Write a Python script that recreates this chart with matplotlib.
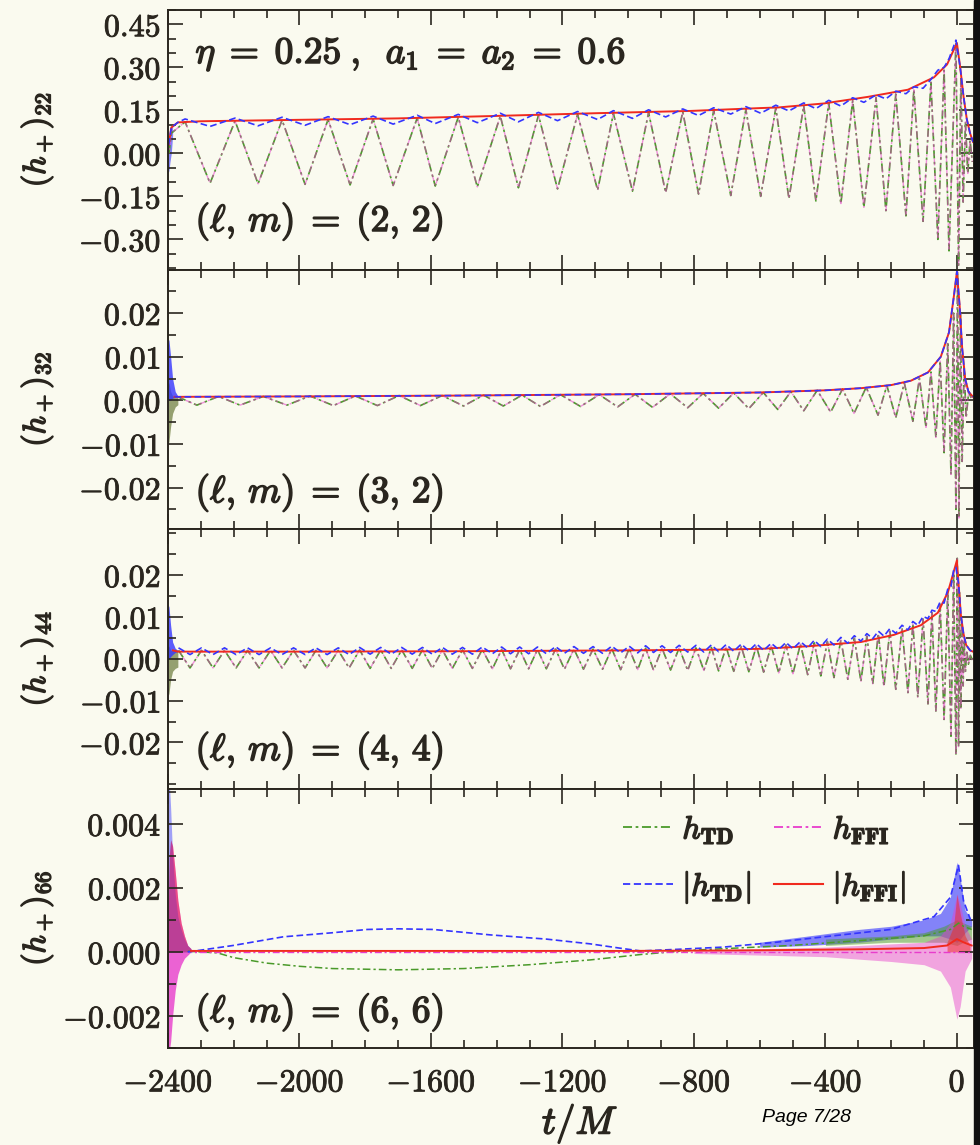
import numpy as np
import matplotlib
matplotlib.use('Agg')
import matplotlib.pyplot as plt
from matplotlib.ticker import MultipleLocator, FuncFormatter, FixedLocator
import matplotlib.patheffects as pe
from matplotlib.patches import Rectangle
from matplotlib.lines import Line2D

plt.rcParams['mathtext.fontset'] = 'cm'
plt.rcParams['font.family'] = ['DejaVu Serif']

BG = '#fafaef'
INK = '#2a261f'
GREEN = '#4a9a2a'
MAGENTA = '#e83ccc'
BLUE = '#3434ff'
RED = '#f02a1e'

# ---------------- panel 1 : (l,m) = (2,2) ----------------
t1_peak = [-2348, -2196, -2053, -1913, -1776, -1642, -1517, -1389, -1273, -1154, -1045, -938, -834,
           -740, -642, -551, -466, -390, -317, -246, -186, -131, -79, -39, -3]
h1_peak = [0.110, 0.113, 0.116, 0.118, 0.120, 0.123, 0.126, 0.130, 0.133, 0.136, 0.139, 0.142, 0.145,
           0.149, 0.153, 0.158, 0.166, 0.175, 0.184, 0.194, 0.207, 0.222, 0.248, 0.290, 0.385]
t1_trough = [-2272, -2126, -1983, -1846, -1715, -1587, -1459, -1334, -1215, -1093, -987, -886, -786,
             -688, -597, -511, -429, -353, -283, -216, -155, -103, -58, -24]
h1_trough = [-0.104, -0.106, -0.108, -0.110, -0.112, -0.114, -0.117, -0.120, -0.124, -0.128, -0.132,
             -0.137, -0.142, -0.147, -0.150, -0.158, -0.166, -0.175, -0.188, -0.200, -0.218, -0.237,
             -0.300, -0.340]
t1_edge = [-2397, -2390, 5, 12, 19, 26, 33, 40, 47]
h1_edge = [0.0, 0.07, -0.39, 0.26, -0.17, 0.11, -0.07, 0.045, -0.03]
t1_env = [-2398, -2390, -2370, -2300, -2000, -1700, -1420, -1100, -810, -597, -545, -405, -271, -149,
          -70, -30, 0, 10, 20, 30, 40, 49]
e1_env = [0.03, 0.09, 0.108, 0.112, 0.117, 0.122, 0.130, 0.140, 0.148, 0.158, 0.160, 0.174, 0.197,
          0.222, 0.265, 0.31, 0.385, 0.30, 0.20, 0.12, 0.07, 0.04]
ripple1 = 0.010
t1_junk = [-2400, -2397, -2394, -2390, -2386]
j1_hi = [0.06, 0.06, 0.07, 0.09, 0.10]
j1_lo = [-0.07, -0.06, -0.03, 0.0, 0.06]

# ---------------- panel 2 : (l,m) = (3,2) ----------------
t2_peak = [-2370, -2246, -2110, -1968, -1830, -1697, -1566, -1440, -1323, -1206, -1088, -979, -872,
           -772, -679, -589, -505, -425, -348, -276, -213, -160, -114, -79, -51, -28, -10]
h2_peak = [0.0008, 0.0009, 0.0009, 0.0010, 0.0010, 0.0011, 0.0011, 0.0012, 0.0012, 0.0013, 0.0013,
           0.0014, 0.0015, 0.0016, 0.0017, 0.0018, 0.0020, 0.0023, 0.0026, 0.0030, 0.0034, 0.0040,
           0.0050, 0.0065, 0.0090, 0.0130, 0.0200]
t2_trough = [-2312, -2181, -2038, -1897, -1763, -1632, -1501, -1380, -1267, -1145, -1032, -926, -819,
             -725, -633, -545, -466, -384, -313, -240, -186, -134, -94, -64, -39, -18, -3]
h2_trough = [-0.0011, -0.0011, -0.0011, -0.0012, -0.0012, -0.0012, -0.0013, -0.0013, -0.0014, -0.0014,
             -0.0015, -0.0016, -0.0017, -0.0018, -0.0019, -0.0021, -0.0024, -0.0027, -0.0030, -0.0034,
             -0.0040, -0.0048, -0.0062, -0.0085, -0.0120, -0.0170, -0.0250]
t2_edge = [2, 6, 11, 16, 22, 28, 36, 46]
h2_edge = [0.0295, -0.027, 0.020, -0.014, 0.008, -0.004, 0.002, 0.0]
t2_env = [-2380, -2000, -1500, -1000, -600, -400, -290, -200, -140, -88, -49, -24, -9, 0, 8, 16, 25, 35, 49]
e2_env = [0.0008, 0.0009, 0.0011, 0.0014, 0.0018, 0.0023, 0.0028, 0.0035, 0.0045, 0.0064, 0.010,
          0.0156, 0.024, 0.0295, 0.022, 0.012, 0.005, 0.002, 0.0008]
t2_junk = [-2400, -2397, -2392, -2386, -2378, -2370]
j2_blue_hi = [0.014, 0.0138, 0.010, 0.005, 0.002, 0.001]
j2_blue_lo = [0.0, 0.0, 0.0, 0.0005, 0.0007, 0.0008]
j2_green_hi = [0.004, 0.004, 0.002, 0.001, 0.0008, 0.0008]
j2_green_lo = [-0.010, -0.0095, -0.006, -0.003, -0.0015, -0.001]

# ---------------- panel 3 : (l,m) = (4,4) ----------------
t3_peak = [-2368, -2298, -2228, -2158, -2088, -2018, -1950, -1882, -1817, -1753, -1689, -1626, -1565,
           -1504, -1444, -1385, -1330, -1276, -1221, -1165, -1107, -1050, -997, -947, -897, -845, -794,
           -747, -702, -656, -610, -565, -520, -476, -434, -394, -353, -312, -274, -239, -204, -167,
           -134, -103, -76, -51, -28, -10]
h3_peak = [0.0020, 0.0020, 0.0020, 0.0020, 0.0020, 0.0020, 0.0020, 0.0020, 0.0021, 0.0021, 0.0021,
           0.0021, 0.0021, 0.0021, 0.0022, 0.0022, 0.0022, 0.0022, 0.0023, 0.0023, 0.0023, 0.0024,
           0.0024, 0.0025, 0.0025, 0.0026, 0.0026, 0.0027, 0.0028, 0.0029, 0.0030, 0.0031, 0.0033,
           0.0035, 0.0038, 0.0041, 0.0045, 0.0049, 0.0054, 0.0060, 0.0066, 0.0074, 0.0083, 0.0095,
           0.0110, 0.0130, 0.0160, 0.0205]
t3_trough = [-2333, -2263, -2193, -2123, -2053, -1983, -1916, -1849, -1785, -1721, -1657, -1596, -1535,
             -1474, -1413, -1358, -1303, -1249, -1194, -1136, -1078, -1023, -971, -923, -871, -819, -770,
             -725, -679, -633, -588, -542, -499, -454, -414, -374, -332, -292, -256, -222, -186, -149,
             -119, -88, -64, -39, -18, -3]
h3_trough = [-0.0022, -0.0022, -0.0022, -0.0022, -0.0022, -0.0022, -0.0022, -0.0022, -0.0023, -0.0023,
             -0.0023, -0.0023, -0.0023, -0.0023, -0.0024, -0.0024, -0.0024, -0.0024, -0.0025, -0.0025,
             -0.0025, -0.0026, -0.0026, -0.0027, -0.0027, -0.0028, -0.0028, -0.0029, -0.0030, -0.0031,
             -0.0032, -0.0034, -0.0036, -0.0038, -0.0041, -0.0045, -0.0049, -0.0054, -0.0060, -0.0066,
             -0.0073, -0.0081, -0.0092, -0.0108, -0.0125, -0.0145, -0.0185, -0.0230]
t3_edge = [1, 5, 8, 12, 15, 19, 22, 26, 30, 35, 41, 48]
h3_edge = [0.024, -0.021, 0.016, -0.012, 0.009, -0.0065, 0.0045, -0.003, 0.002, -0.0013, 0.0008, -0.0004]
t3_env = [-2385, -2370, -2000, -1500, -1000, -700, -588, -450, -292, -192, -110, -58, -27, -9, 0, 5,
          12, 20, 28, 40, 49]
e3_env = [0.0020, 0.0017, 0.0017, 0.0018, 0.0020, 0.0022, 0.0024, 0.0030, 0.0040, 0.0057, 0.0080,
          0.0110, 0.0160, 0.0210, 0.0235, 0.0180, 0.0105, 0.0060, 0.0033, 0.0020, 0.0017]
ripple3 = 0.0006
t3_junk = [-2400, -2397, -2392, -2386, -2378, -2370]
j3_blue_hi = [0.013, 0.0124, 0.008, 0.004, 0.0025, 0.002]
j3_blue_lo = [0.0, 0.0, 0.0005, 0.001, 0.0015, 0.0017]
j3_green_hi = [0.003, 0.003, 0.002, 0.002, 0.002, 0.002]
j3_green_lo = [-0.009, -0.0083, -0.005, -0.003, -0.0023, -0.002]

# ---------------- panel 4 : (l,m) = (6,6) ----------------
t4_green = [-2340, -2250, -2200, -2100, -2000, -1900, -1700, -1500, -1300, -1115, -960, -810, -650,
            -505, -300, -100, -20, 5, 20, 45]
h4_green = [0.00002, -0.00003, -0.00018, -0.00035, -0.00045, -0.00052, -0.00056, -0.00052, -0.0004,
            -0.00025, -0.00008, 0.00005, 0.00013, 0.0002, 0.00035, 0.0005, 0.0007, 0.0009, 0.0008, 0.0007]
t4_blue = [-2340, -2303, -2202, -2050, -1897, -1794, -1700, -1593, -1419, -1250, -1115, -1014, -962,
           -850, -710, -550, -405, -201, -70, -20, 5, 20, 45]
h4_blue = [0.0, 0.00005, 0.0002, 0.00047, 0.0006, 0.0007, 0.00072, 0.0007, 0.00053, 0.0004, 0.00025,
           0.0001, 0.00003, 0.00008, 0.00015, 0.0003, 0.00047, 0.0007, 0.0011, 0.0017, 0.0027, 0.0016, 0.0009]
t4_red = [-2330, -2000, -1000, -600, -300, -100, -30, 0, 20, 45]
h4_red = [0.00003, 0.00003, 0.00003, 0.00005, 0.00008, 0.00012, 0.0002, 0.0004, 0.0003, 0.0002]
t4_magenta = [-2330, -1500, -800, -300, 45]
h4_magenta = [0.0, 0.0, 0.0, 0.0, 0.0]
t4_bband = [-600, -450, -300, -200, -100, -50, -20, 0, 10, 25, 45]
b4_lo = [0.00015, 0.0002, 0.0003, 0.0004, 0.0005, 0.0005, 0.0004, 0.0003, 0.0004, 0.0006, 0.0008]
b4_hi = [0.0003, 0.0005, 0.0007, 0.0008, 0.0010, 0.0012, 0.0017, 0.0028, 0.0023, 0.0013, 0.0010]
t4_gband = [-400, -200, -100, -40, 0, 20, 45]
g4_lo = [0.0002, 0.0003, 0.0003, 0.0003, 0.0002, 0.0003, 0.0004]
g4_hi = [0.0004, 0.0005, 0.0006, 0.0008, 0.0010, 0.0009, 0.0008]
t4_mband = [-800, -600, -400, -200, -100, -50, -20, 0, 10, 25, 45]
m4_lo = [-0.00005, -0.0001, -0.00015, -0.0003, -0.0004, -0.0006, -0.0011, -0.0021, -0.0017, -0.0006, -0.0002]
m4_hi = [0.00005, 0.0001, 0.00015, 0.00025, 0.0003, 0.0005, 0.0009, 0.0018, 0.0015, 0.0008, 0.0004]
t4_rband = [-30, -10, 0, 10, 25, 40]
r4_hi = [0.0003, 0.0008, 0.0018, 0.0012, 0.0005, 0.0002]
t4_junk = [-2400, -2396, -2392, -2386, -2378, -2370, -2360, -2350, -2340, -2330]
j4_blue_hi = [0.0053, 0.0053, 0.0045, 0.003, 0.0018, 0.0011, 0.0007, 0.0004, 0.0002, 0.0001]
j4_mag_hi = [0.0008, 0.0030, 0.0035, 0.0033, 0.0025, 0.0016, 0.0009, 0.0005, 0.0002, 0.0001]
j4_mag_lo = [-0.0031, -0.0031, -0.0028, -0.002, -0.0012, -0.0007, -0.0004, -0.0002, -0.0001, 0.0]

# ---------------- axes settings ----------------
ylabels = [r'$(h_+)_{22}$', r'$(h_+)_{32}$', r'$(h_+)_{44}$', r'$(h_+)_{66}$']
mode_labels = [r'$(\ell,\, m)\; = \;(2,\, 2)$', r'$(\ell,\, m)\; = \;(3,\, 2)$',
               r'$(\ell,\, m)\; = \;(4,\, 4)$', r'$(\ell,\, m)\; = \;(6,\, 6)$']
mode_label_y = [0.185, 0.14, 0.146, 0.138]
ylims = [(-0.405, 0.50), (-0.0295, 0.030), (-0.031, 0.031), (-0.0030, 0.0051)]
yticks = [[-0.30, -0.15, 0.0, 0.15, 0.30, 0.45],
          [-0.02, -0.01, 0.0, 0.01, 0.02],
          [-0.02, -0.01, 0.0, 0.01, 0.02],
          [-0.002, 0.0, 0.002, 0.004]]
yminor = [0.05, 0.005, 0.005, 0.001]
ydec = [2, 2, 2, 3]
xticks = [-2400, -2000, -1600, -1200, -800, -400, 0]
xlim = (-2400, 52)

DASHDOT = (0, (5, 2, 1.5, 2))
DASHDOT_M = (4.5, (5, 2, 1.5, 2))
DASHED = (0, (4, 2))

STROKE = [pe.withStroke(linewidth=1.1, foreground=INK)]
STROKE_T = [pe.withStroke(linewidth=0.6, foreground=INK)]


def merged(*pairs):
    t = np.concatenate([np.asarray(p[0], float) for p in pairs])
    h = np.concatenate([np.asarray(p[1], float) for p in pairs])
    o = np.argsort(t)
    return t[o], h[o]


fig = plt.figure(figsize=(9.8, 11.45), dpi=100, facecolor=BG)
gs = fig.add_gridspec(4, 1, left=168 / 980, right=974 / 980, top=1 - 10 / 1145,
                      bottom=1 - 1048 / 1145, hspace=0)
axes = [fig.add_subplot(gs[i]) for i in range(4)]

# panel 1
ax = axes[0]
t, h = merged((t1_peak, h1_peak), (t1_trough, h1_trough), (t1_edge, h1_edge))
ax.fill_between(t1_junk, j1_lo, j1_hi, color=BLUE, alpha=0.6, lw=0)
ax.plot(t, h, color=GREEN, ls=DASHDOT, lw=1.2)
ax.plot(t, h, color=MAGENTA, ls=DASHDOT_M, lw=1.0, alpha=0.55)
ax.plot(t1_env, e1_env, color=RED, lw=1.4)
tb, hb = merged((t1_peak, np.array(h1_peak) + ripple1), (t1_trough, -np.array(h1_trough) - ripple1),
                (t1_env[:3], e1_env[:3]), (t1_env[-5:], e1_env[-5:]))
ax.plot(tb, hb, color=BLUE, ls=DASHED, lw=1.2)

# panel 2
ax = axes[1]
t, h = merged((t2_peak, h2_peak), (t2_trough, h2_trough), (t2_edge, h2_edge))
ax.fill_between(t2_junk, j2_green_lo, j2_green_hi, color='#6b7a3a', alpha=0.7, lw=0)
ax.fill_between(t2_junk, j2_blue_lo, j2_blue_hi, color=BLUE, alpha=0.8, lw=0)
ax.plot(t, h, color=GREEN, ls=DASHDOT, lw=1.2)
ax.plot(t, h, color=MAGENTA, ls=DASHDOT_M, lw=1.0, alpha=0.55)
ax.plot(t2_env, e2_env, color=RED, lw=1.4)
ax.plot(t2_env, e2_env, color=BLUE, ls=DASHED, lw=1.2)

# panel 3
ax = axes[2]
t, h = merged((t3_peak, h3_peak), (t3_trough, h3_trough), (t3_edge, h3_edge))
ax.fill_between(t3_junk, j3_green_lo, j3_green_hi, color='#6b7a3a', alpha=0.7, lw=0)
ax.fill_between(t3_junk, j3_blue_lo, j3_blue_hi, color=BLUE, alpha=0.8, lw=0)
ax.plot(t, h, color=GREEN, ls=DASHDOT, lw=1.2)
ax.plot(t, h, color=MAGENTA, ls=DASHDOT_M, lw=1.0, alpha=0.55)
ax.plot(t3_env, e3_env, color=RED, lw=1.4)
tb, hb = merged((t3_peak, np.array(h3_peak) + ripple3),
                (t3_trough, np.maximum(-np.array(h3_trough) - 2 * ripple3, 0.0006)),
                (t3_env[-6:], e3_env[-6:]))
ax.plot(tb, hb, color=BLUE, ls=DASHED, lw=1.2)

# panel 4
ax = axes[3]
ax.fill_between(t4_junk, j4_mag_lo, j4_mag_hi, color=MAGENTA, alpha=0.8, lw=0)
ax.fill_between(t4_junk, 0, j4_blue_hi, color=BLUE, alpha=0.45, lw=0)
ax.fill_between(t4_junk, 0, j4_mag_hi, color=RED, alpha=0.4, lw=0)
ax.fill_between(t4_bband, b4_lo, b4_hi, color=BLUE, alpha=0.6, lw=0)
ax.fill_between(t4_gband, g4_lo, g4_hi, color=GREEN, alpha=0.5, lw=0)
ax.fill_between(t4_mband, m4_lo, m4_hi, color=MAGENTA, alpha=0.45, lw=0)
ax.fill_between(t4_rband, 0, r4_hi, color=RED, alpha=0.5, lw=0)
ax.plot(t4_green, h4_green, color=GREEN, ls=DASHDOT, lw=1.1)
ax.plot(t4_magenta, h4_magenta, color=MAGENTA, ls=DASHDOT_M, lw=1.0)
ax.plot(t4_blue, h4_blue, color=BLUE, ls=DASHED, lw=1.2)
ax.plot(t4_red, h4_red, color=RED, lw=1.4)

handles = [Line2D([], [], color=GREEN, ls=DASHDOT, lw=1.3),
           Line2D([], [], color=BLUE, ls=DASHED, lw=1.3),
           Line2D([], [], color=MAGENTA, ls=DASHDOT, lw=1.3),
           Line2D([], [], color=RED, lw=1.5)]
labels = [r'$h_{\mathbf{TD}}$', r'$|h_{\mathbf{TD}}|$', r'$h_{\mathbf{FFI}}$', r'$|h_{\mathbf{FFI}}|$']
leg = ax.legend(handles, labels, ncol=2, loc='upper left', bbox_to_anchor=(0.545, 0.965),
                frameon=False, fontsize=23, handlelength=1.55, handletextpad=0.3,
                columnspacing=0.7, labelspacing=0.75, borderpad=0.0)
for txt in leg.get_texts():
    txt.set_color(INK)
    txt.set_path_effects(STROKE)


def make_fmt(nd):
    def f(v, pos):
        s = f'{v:.{nd}f}'
        if float(s) == 0:
            s = s.lstrip('-')
        return r'$\mathbf{%s}$' % s
    return FuncFormatter(f)


for i, ax in enumerate(axes):
    ax.set_facecolor(BG)
    ax.set_xlim(*xlim)
    ax.set_ylim(*ylims[i])
    ax.xaxis.set_major_locator(FixedLocator(xticks))
    ax.xaxis.set_minor_locator(MultipleLocator(100))
    ax.yaxis.set_major_locator(FixedLocator(yticks[i]))
    ax.yaxis.set_minor_locator(MultipleLocator(yminor[i]))
    ax.yaxis.set_major_formatter(make_fmt(ydec[i]))
    ax.xaxis.set_major_formatter(FuncFormatter(lambda v, p: r'$\mathbf{%d}$' % int(round(v))))
    ax.tick_params(which='both', direction='in', top=True, right=True, colors=INK,
                   labelsize=23, width=1.2)
    ax.tick_params(axis='y', which='major', pad=5)
    ax.tick_params(axis='x', which='major', pad=14)
    ax.tick_params(which='major', length=11)
    ax.tick_params(which='minor', length=6)
    if i < 3:
        ax.tick_params(labelbottom=False)
    for sp in ax.spines.values():
        sp.set_linewidth(1.4)
        sp.set_color(INK)
    ax.set_ylabel(ylabels[i], fontsize=23, color=INK, rotation=90, va='center', ha='center')
    ax.yaxis.set_label_coords(-0.162, 0.5)
    ax.yaxis.label.set_path_effects(STROKE)
    t_ = ax.text(0.034, mode_label_y[i], mode_labels[i], transform=ax.transAxes, fontsize=27,
                 color=INK, ha='left', va='center')
    t_.set_path_effects(STROKE)

t_ = axes[0].text(0.034, 0.83, r'$\eta\; = \;0.25\;,\;\; a_1\; = \;a_2\; = \;0.6$',
                  transform=axes[0].transAxes, fontsize=27, color=INK, ha='left', va='center')
t_.set_path_effects(STROKE)

xl = fig.text(580 / 980, 1 - 1124 / 1145, r'$t/M$', fontsize=28, color=INK, ha='center', va='center')
xl.set_path_effects(STROKE)
fig.text(762 / 980, 1 - 1117 / 1145, 'Page 7/28', fontsize=14, style='italic',
         family=['Liberation Sans', 'DejaVu Sans'], color='black', ha='left', va='center')

fig.add_artist(Rectangle((974 / 980, 0), 6 / 980, 1, transform=fig.transFigure,
                         color='#111111', zorder=10))

fig.canvas.draw()
for ax in axes:
    for lbl in ax.get_xticklabels() + ax.get_yticklabels():
        lbl.set_path_effects(STROKE_T)

fig.savefig('out.png', dpi=100, facecolor=BG)
